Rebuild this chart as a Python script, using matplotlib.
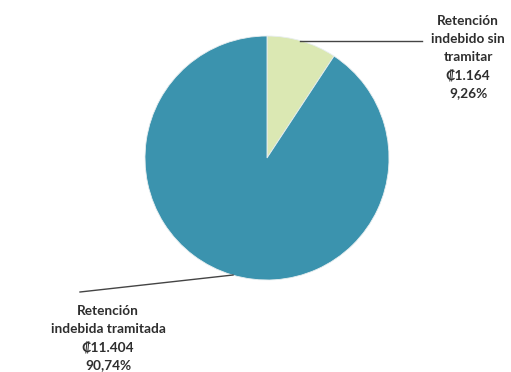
import matplotlib

matplotlib.use("Agg")

import matplotlib.pyplot as plt

labels = ["Retención\nindebido sin\ntramitar\n₡1.164\n9,26%",
          "Retención\nindebida tramitada\n₡11.404\n90,74%"]
values = [1164, 11404]
colors = ["#dbe8b3", "#3b93ae"]

W, H = 511, 372
fig = plt.figure(figsize=(W / 100, H / 100), dpi=100)
ax = fig.add_axes([0, 0, 1, 1])


def fy(y):
    # image pixel row -> data y (origin at bottom)
    return H - y


ax.pie(values, colors=colors, startangle=90, counterclock=False,
       center=(267, fy(158)), radius=122, frame=True,
       wedgeprops=dict(edgecolor="#e8eef0", linewidth=0.6))
ax.set_xlim(0, W)
ax.set_ylim(0, H)
ax.set_aspect("auto")
ax.axis("off")

font = dict(family="Lato", weight="bold", size=9.8, color="#2e2e2e",
            ha="center", va="center", linespacing=1.6)

# leader lines
ax.plot([300, 422], [fy(41), fy(41)], color="#444444", lw=1.0)
ax.plot([233, 80], [fy(275), fy(292)], color="#444444", lw=1.0)

ax.text(468, fy(57), labels[0], **font)
ax.text(108, fy(338), labels[1], **font)

fig.savefig("out.png", dpi=100)
